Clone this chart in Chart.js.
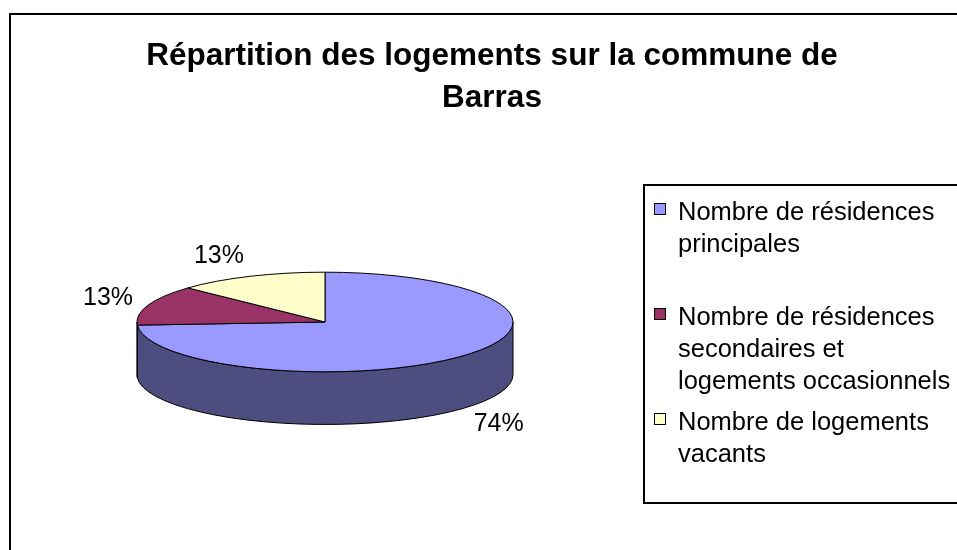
<!DOCTYPE html>
<html lang="fr">
<head>
<meta charset="utf-8">
<title>Répartition des logements - Barras</title>
<script src="https://cdn.jsdelivr.net/npm/chart.js@4.4.1/dist/chart.umd.min.js"></script>
<style>
  html, body { margin: 0; padding: 0; background: #fff; }
  canvas { display: block; }
</style>
</head>
<body>
<canvas id="graficoBarras" width="957" height="550"></canvas>
<script>
// =================== Données ===================
const titre = ["Répartition des logements sur la commune de", "Barras"];

const categories = [
  "Nombre de résidences principales",
  "Nombre de résidences secondaires et logements occasionnels",
  "Nombre de logements vacants"
];

// parts (%)
const valeurs = [74, 13, 13];

const couleurs = ["#9999FF", "#993366", "#FFFFCC"];
const couleursCote = ["#4D4D80", "#4D1A33", "#808066"];

// =================== Réglages du rendu ===================
const POLICE = '"Liberation Sans", Arial, sans-serif';
const APLATI = 0.265;     // ry / rx de l'ellipse
const EPAISSEUR = 0.28;   // hauteur du cylindre / rayon

function pourcent(v) {
  const total = valeurs.reduce((a, b) => a + b, 0);
  return Math.round(v / total * 100) + "%";
}

// découpe un texte en lignes selon une largeur max
function couperTexte(ctx, texte, largeurMax) {
  const mots = texte.split(" ");
  const lignes = [];
  let ligne = "";
  mots.forEach(m => {
    const essai = ligne ? ligne + " " + m : m;
    if (ctx.measureText(essai).width > largeurMax && ligne) {
      lignes.push(ligne);
      ligne = m;
    } else {
      ligne = essai;
    }
  });
  if (ligne) lignes.push(ligne);
  return lignes;
}

// =================== Plugin camembert 3D ===================
const camembert3D = {
  id: "camembert3D",
  beforeDatasetsDraw(chart) {
    const ctx = chart.ctx;
    const arcs = chart.getDatasetMeta(0).data;
    if (!arcs.length) return false;

    const cx = arcs[0].x;
    const cy = arcs[0].y;
    const rx = arcs[0].outerRadius;
    const ry = rx * APLATI;
    const h = rx * EPAISSEUR;

    ctx.save();
    ctx.lineWidth = 1;
    ctx.strokeStyle = "#000";
    ctx.lineJoin = "round";

    // côtés (partie avant seulement : angles 0..PI)
    arcs.forEach((arc, i) => {
      const lo = Math.max(arc.startAngle, 0);
      const hi = Math.min(arc.endAngle, Math.PI);
      if (hi <= lo) return;
      ctx.beginPath();
      ctx.ellipse(cx, cy, rx, ry, 0, lo, hi, false);
      ctx.ellipse(cx, cy + h, rx, ry, 0, hi, lo, true);
      ctx.closePath();
      ctx.fillStyle = couleursCote[i];
      ctx.fill();
      ctx.stroke();
    });

    // dessus
    arcs.forEach((arc, i) => {
      ctx.beginPath();
      ctx.moveTo(cx, cy);
      ctx.ellipse(cx, cy, rx, ry, 0, arc.startAngle, arc.endAngle, false);
      ctx.closePath();
      ctx.fillStyle = couleurs[i];
      ctx.fill();
      ctx.stroke();
    });

    // étiquettes de pourcentage (ancrées au bord, côté extérieur)
    ctx.fillStyle = "#000";
    ctx.font = "25px " + POLICE;
    ctx.textBaseline = "middle";
    arcs.forEach((arc, i) => {
      const m = (arc.startAngle + arc.endAngle) / 2;
      const c = Math.cos(m), s = Math.sin(m);
      const ax = cx + (rx + 16) * c;
      const ay = cy + (ry + 22) * s + (s > 0 ? h : 0);
      ctx.textAlign = c >= 0 ? "left" : "right";
      ctx.fillText(pourcent(valeurs[i]), ax, ay);
    });

    ctx.restore();
    return false;
  },
  afterDraw(chart) {
    const ctx = chart.ctx;
    ctx.save();

    // cadre extérieur
    ctx.strokeStyle = "#000";
    ctx.lineWidth = 2;
    ctx.strokeRect(10, 14, 1000, 1000);

    // titre
    ctx.fillStyle = "#000";
    ctx.font = "bold 31.5px " + POLICE;
    ctx.textAlign = "center";
    ctx.textBaseline = "middle";
    titre.forEach((t, i) => ctx.fillText(t, 492, 56 + i * 42));

    // légende
    const lx = 644, ly = 185, lh = 318;
    ctx.lineWidth = 2;
    ctx.strokeRect(lx, ly, 400, lh);

    ctx.font = "25.5px " + POLICE;
    ctx.textAlign = "left";
    ctx.textBaseline = "middle";
    const slot = 105, interligne = 32;
    categories.forEach((cat, i) => {
      const y0 = ly + 24 + i * slot;
      ctx.fillStyle = couleurs[i];
      ctx.fillRect(654.5, y0 - 5.5, 11, 11);
      ctx.lineWidth = 1;
      ctx.strokeStyle = "#000";
      ctx.strokeRect(654.5, y0 - 5.5, 11, 11);
      ctx.fillStyle = "#000";
      couperTexte(ctx, cat, 280).forEach((l, k) => {
        ctx.fillText(l, 678, y0 + 4 + k * interligne);
      });
    });

    ctx.restore();
  }
};

// =================== Graphique ===================
const ctxBarras = document.getElementById("graficoBarras").getContext("2d");

const chartBarras = new Chart(ctxBarras, {
  type: "pie",
  data: {
    labels: categories,
    datasets: [{
      data: valeurs,
      backgroundColor: couleurs,
      borderWidth: 0
    }]
  },
  options: {
    responsive: false,
    animation: false,
    layout: { padding: { left: 137, right: 444, top: 134, bottom: 40 } },
    plugins: {
      legend: { display: false },
      title: { display: false },
      tooltip: { enabled: false }
    }
  },
  plugins: [camembert3D]
});
</script>
</body>
</html>
